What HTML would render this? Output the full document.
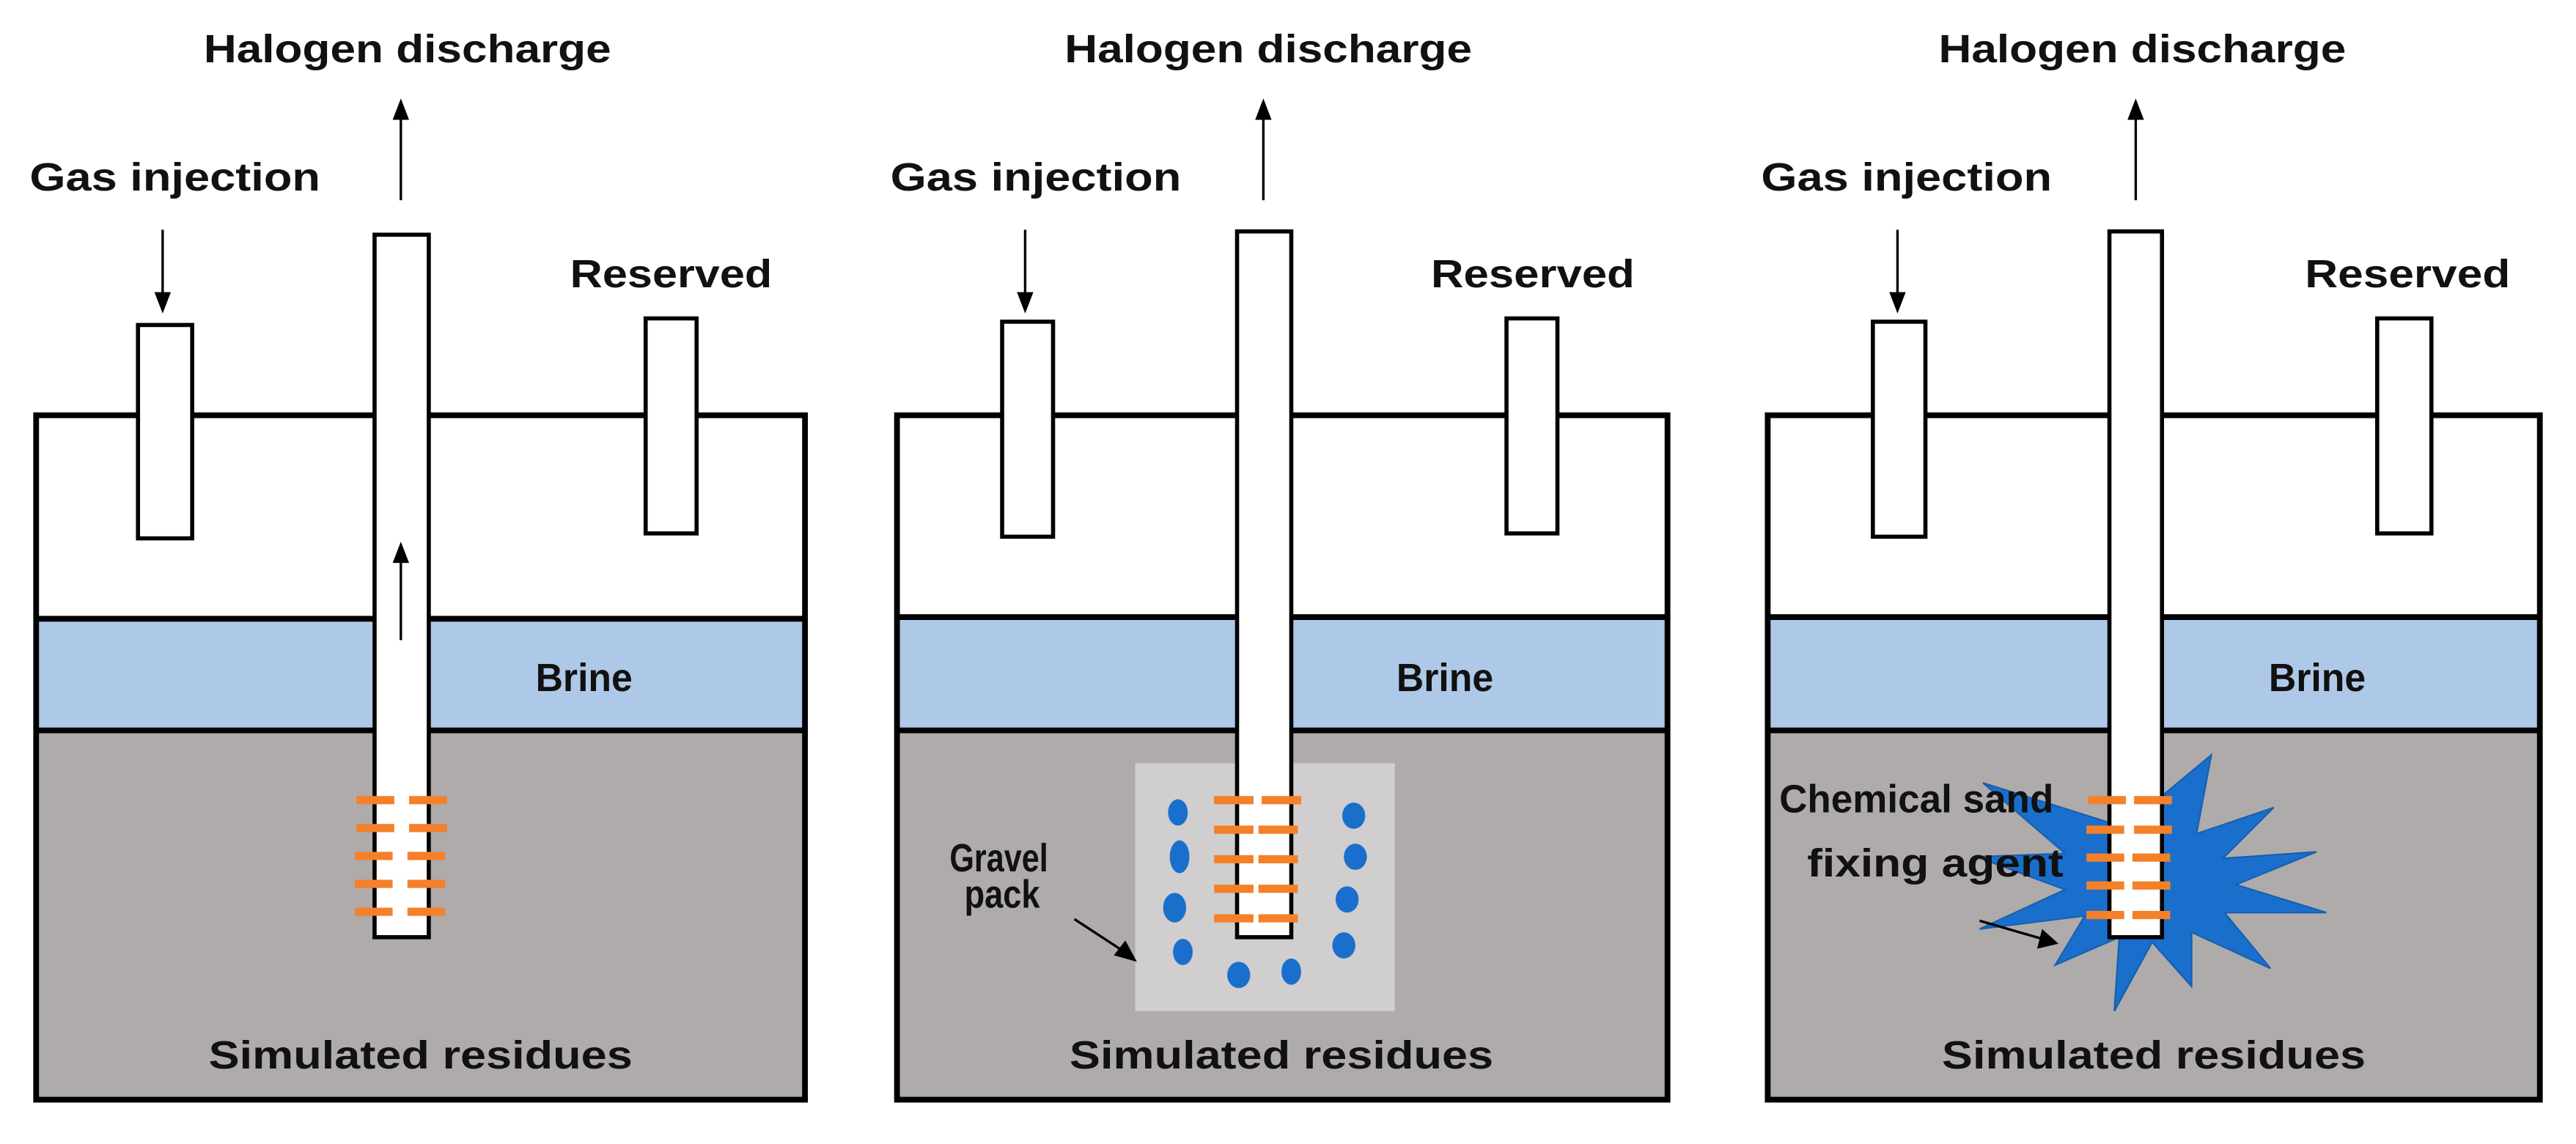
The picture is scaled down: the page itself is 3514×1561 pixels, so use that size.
<!DOCTYPE html>
<html><head><meta charset="utf-8"><style>
html,body{margin:0;padding:0;background:#fff;}
svg{display:block;}
text{font-family:"Liberation Sans",sans-serif;font-weight:bold;fill:#111;}
</style></head><body>
<svg width="3514" height="1561" viewBox="0 0 1568 697" preserveAspectRatio="none" xmlns="http://www.w3.org/2000/svg">
<rect width="1568" height="697" fill="#fff"/>

<!-- PANEL 1 -->
<g>
<rect x="22" y="377" width="468" height="68" fill="#aec8e8"/>
<rect x="22" y="445" width="468" height="225" fill="#afabab"/>
<line x1="22" y1="377" x2="490" y2="377" stroke="#000" stroke-width="3.5"/>
<line x1="22" y1="445" x2="490" y2="445" stroke="#000" stroke-width="3.5"/>
<rect x="22" y="253" width="468" height="417" fill="none" stroke="#000" stroke-width="3.5"/>
<rect x="84" y="198" width="33" height="130" fill="#fff" stroke="#000" stroke-width="2.5"/>
<rect x="393" y="194" width="31" height="131" fill="#fff" stroke="#000" stroke-width="2.5"/>
<rect x="228" y="143" width="33" height="428" fill="#fff" stroke="#000" stroke-width="2.5"/>
<g fill="#f4802a">
<rect x="217" y="485" width="23" height="5"/><rect x="249" y="485" width="23" height="5"/>
<rect x="217" y="502" width="23" height="5"/><rect x="249" y="502" width="23" height="5"/>
<rect x="216" y="519" width="23" height="5"/><rect x="248" y="519" width="23" height="5"/>
<rect x="216" y="536" width="23" height="5"/><rect x="248" y="536" width="23" height="5"/>
<rect x="216" y="553" width="23" height="5"/><rect x="248" y="553" width="23" height="5"/>
</g>
<line x1="244" y1="390" x2="244" y2="342" stroke="#000" stroke-width="1.5"/>
<polygon points="244,330 239,343 249,343" fill="#000"/>
<line x1="244" y1="122" x2="244" y2="72" stroke="#000" stroke-width="1.5"/>
<polygon points="244,60 239,73 249,73" fill="#000"/>
<line x1="99" y1="140" x2="99" y2="180" stroke="#000" stroke-width="1.5"/>
<polygon points="99,191 94,178 104,178" fill="#000"/>
<text x="124" y="38" font-size="24" textLength="248" lengthAdjust="spacingAndGlyphs">Halogen discharge</text>
<text x="18" y="116" font-size="24" textLength="177" lengthAdjust="spacingAndGlyphs">Gas injection</text>
<text x="347" y="175" font-size="24" textLength="123" lengthAdjust="spacingAndGlyphs">Reserved</text>
<text x="326" y="421" font-size="24" textLength="59" lengthAdjust="spacingAndGlyphs">Brine</text>
<text x="127" y="651" font-size="24" textLength="258" lengthAdjust="spacingAndGlyphs">Simulated residues</text>
</g>

<!-- PANEL 2 -->
<g>
<rect x="546" y="376" width="469" height="69" fill="#aec8e8"/>
<rect x="546" y="445" width="469" height="225" fill="#afabab"/>
<rect x="691" y="465" width="158" height="151" fill="#d0cece"/>
<line x1="546" y1="376" x2="1015" y2="376" stroke="#000" stroke-width="3.5"/>
<line x1="546" y1="445" x2="1015" y2="445" stroke="#000" stroke-width="3.5"/>
<rect x="546" y="253" width="469" height="417" fill="none" stroke="#000" stroke-width="3.5"/>
<rect x="610" y="196" width="31" height="131" fill="#fff" stroke="#000" stroke-width="2.5"/>
<rect x="917" y="194" width="31" height="131" fill="#fff" stroke="#000" stroke-width="2.5"/>
<rect x="753" y="141" width="33" height="430" fill="#fff" stroke="#000" stroke-width="2.5"/>
<g fill="#f4802a">
<rect x="739" y="485" width="24" height="5"/><rect x="768" y="485" width="24" height="5"/>
<rect x="739" y="503" width="24" height="5"/><rect x="766" y="503" width="24" height="5"/>
<rect x="739" y="521" width="24" height="5"/><rect x="766" y="521" width="24" height="5"/>
<rect x="739" y="539" width="24" height="5"/><rect x="766" y="539" width="24" height="5"/>
<rect x="739" y="557" width="24" height="5"/><rect x="766" y="557" width="24" height="5"/>
</g>
<g fill="#1b6fcc">
<ellipse cx="717" cy="495" rx="6" ry="8"/>
<ellipse cx="718" cy="522" rx="6" ry="10"/>
<ellipse cx="715" cy="553" rx="7" ry="9"/>
<ellipse cx="720" cy="580" rx="6" ry="8"/>
<ellipse cx="754" cy="594" rx="7" ry="8"/>
<ellipse cx="786" cy="592" rx="6" ry="8"/>
<ellipse cx="824" cy="497" rx="7" ry="8"/>
<ellipse cx="825" cy="522" rx="7" ry="8"/>
<ellipse cx="820" cy="548" rx="7" ry="8"/>
<ellipse cx="818" cy="576" rx="7" ry="8"/>
</g>
<line x1="654" y1="560" x2="683" y2="579" stroke="#000" stroke-width="1.5"/>
<polygon points="692,586 678,582 685,573" fill="#000"/>
<line x1="769" y1="122" x2="769" y2="72" stroke="#000" stroke-width="1.5"/>
<polygon points="769,60 764,73 774,73" fill="#000"/>
<line x1="624" y1="140" x2="624" y2="180" stroke="#000" stroke-width="1.5"/>
<polygon points="624,191 619,178 629,178" fill="#000"/>
<text x="648" y="38" font-size="24" textLength="248" lengthAdjust="spacingAndGlyphs">Halogen discharge</text>
<text x="542" y="116" font-size="24" textLength="177" lengthAdjust="spacingAndGlyphs">Gas injection</text>
<text x="871" y="175" font-size="24" textLength="124" lengthAdjust="spacingAndGlyphs">Reserved</text>
<text x="850" y="421" font-size="24" textLength="59" lengthAdjust="spacingAndGlyphs">Brine</text>
<text x="578" y="531" font-size="24" textLength="60" lengthAdjust="spacingAndGlyphs">Gravel</text>
<text x="587" y="553" font-size="24" textLength="46" lengthAdjust="spacingAndGlyphs">pack</text>
<text x="651" y="651" font-size="24" textLength="258" lengthAdjust="spacingAndGlyphs">Simulated residues</text>
</g>

<!-- PANEL 3 -->
<g>
<rect x="1076" y="376" width="470" height="69" fill="#aec8e8"/>
<rect x="1076" y="445" width="470" height="225" fill="#afabab"/>
<line x1="1076" y1="376" x2="1546" y2="376" stroke="#000" stroke-width="3.5"/>
<line x1="1076" y1="445" x2="1546" y2="445" stroke="#000" stroke-width="3.5"/>
<rect x="1076" y="253" width="470" height="417" fill="none" stroke="#000" stroke-width="3.5"/>
<polygon fill="#1b6fcc" stroke="#1760b0" stroke-width="1" points="1207,477 1293,504 1346,460 1337,508 1384,492 1353,523 1410,519 1361,539 1416,556 1354,556 1382,590 1334,568 1334,601 1310,574 1287,616 1290,571 1251,588 1269,558 1205,566 1257,542 1203,522 1257,520"/>
<rect x="1140" y="196" width="32" height="131" fill="#fff" stroke="#000" stroke-width="2.5"/>
<rect x="1447" y="194" width="33" height="131" fill="#fff" stroke="#000" stroke-width="2.5"/>
<rect x="1284" y="141" width="32" height="430" fill="#fff" stroke="#000" stroke-width="2.5"/>
<g fill="#f4802a">
<rect x="1271" y="485" width="23" height="5"/><rect x="1299" y="485" width="23" height="5"/>
<rect x="1270" y="503" width="23" height="5"/><rect x="1299" y="503" width="23" height="5"/>
<rect x="1270" y="520" width="23" height="5"/><rect x="1298" y="520" width="23" height="5"/>
<rect x="1270" y="537" width="23" height="5"/><rect x="1298" y="537" width="23" height="5"/>
<rect x="1270" y="555" width="23" height="5"/><rect x="1298" y="555" width="23" height="5"/>
</g>
<line x1="1205" y1="561" x2="1243" y2="572" stroke="#000" stroke-width="1.5"/>
<polygon points="1253,575 1240,578 1243,566" fill="#000"/>
<line x1="1300" y1="122" x2="1300" y2="72" stroke="#000" stroke-width="1.5"/>
<polygon points="1300,60 1295,73 1305,73" fill="#000"/>
<line x1="1155" y1="140" x2="1155" y2="180" stroke="#000" stroke-width="1.5"/>
<polygon points="1155,191 1150,178 1160,178" fill="#000"/>
<text x="1180" y="38" font-size="24" textLength="248" lengthAdjust="spacingAndGlyphs">Halogen discharge</text>
<text x="1072" y="116" font-size="24" textLength="177" lengthAdjust="spacingAndGlyphs">Gas injection</text>
<text x="1403" y="175" font-size="24" textLength="125" lengthAdjust="spacingAndGlyphs">Reserved</text>
<text x="1381" y="421" font-size="24" textLength="59" lengthAdjust="spacingAndGlyphs">Brine</text>
<text x="1083" y="495" font-size="24" textLength="167" lengthAdjust="spacingAndGlyphs">Chemical sand</text>
<text x="1100" y="534" font-size="24" textLength="156" lengthAdjust="spacingAndGlyphs">fixing agent</text>
<text x="1182" y="651" font-size="24" textLength="258" lengthAdjust="spacingAndGlyphs">Simulated residues</text>
</g>
</svg>
</body></html>
